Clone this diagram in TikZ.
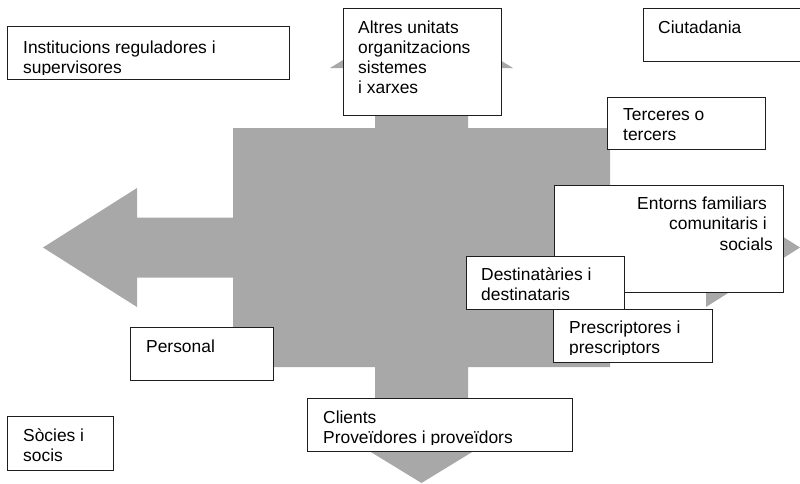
\documentclass[tikz,border=0pt]{standalone}
\usepackage{fontspec}
\setmainfont{Liberation Sans}
\definecolor{arrowgrey}{RGB}{168,168,168}
\definecolor{boxline}{RGB}{30,30,30}
\begin{document}
\begin{tikzpicture}[x=1pt,y=-1pt,
  box/.style={draw=boxline, line width=0.9pt, fill=white, inner sep=0pt, anchor=north west},
  lbl/.style={inner sep=0pt, anchor=base west, align=left, font=\fontsize{17.4}{20.2}\selectfont},
  lblr/.style={inner sep=0pt, anchor=base east, align=right, font=\fontsize{17.4}{20.5}\selectfont}]
\useasboundingbox (0,0) rectangle (800,483);
% four-way arrow
\fill[arrowgrey] (43,247.5) -- (137,188) -- (137,217.5) -- (233,217.5) -- (233,128)
  -- (375,128) -- (375,68) -- (330,68) -- (421.5,12) -- (513,68) -- (468,68) -- (468,128)
  -- (610,128) -- (610,217.5) -- (706,217.5) -- (706,188) -- (800,247.5) -- (706,307)
  -- (706,277.5) -- (610,277.5) -- (610,367) -- (468,367) -- (468,427) -- (513,427)
  -- (421.5,483) -- (330,427) -- (375,427) -- (375,367) -- (233,367) -- (233,277.5)
  -- (137,277.5) -- (137,307) -- cycle;
% boxes and labels (label anchors sit on the baseline of the last line)
\node[box, minimum width=282, minimum height=53] (inst) at (7,26) {};
\begin{scope}
  \clip (7,20) rectangle (289,74.8);
  \node[lbl] (instT) at (23,73.2) {Institucions reguladores i\\supervisores};
\end{scope}
\node[box, minimum width=158, minimum height=107] (altres) at (343,8) {};
\node[lbl] (altresT) at (358,93.6) {Altres unitats\\organitzacions\\sistemes\\i xarxes};
\node[box, minimum width=170, minimum height=53] (ciut) at (643,8) {};
\node[lbl] (ciutT) at (658,33) {Ciutadania};
\node[box, minimum width=158, minimum height=52] (terc) at (607,97) {};
\node[lbl] (tercT) at (623,140.2) {Terceres o\\tercers};
\node[box, minimum width=229, minimum height=107] (entorns) at (554,185) {};
\node[lblr] (entornsT) at (773,250) {Entorns familiars\kern6pt\\comunitaris i\kern6pt\\socials};
\node[box, minimum width=158, minimum height=53] (dest) at (466,256) {};
\node[lbl] (destT) at (481,300.2) {Destinatàries i\\destinataris};
\node[box, minimum width=159, minimum height=53] (presc) at (553,309) {};
\begin{scope}
  \clip (553,305) rectangle (712,354.8);
  \node[lbl] (prescT) at (569,353.2) {Prescriptores i\\prescriptors};
\end{scope}
\node[box, minimum width=143, minimum height=53] (pers) at (130,327) {};
\node[lbl] (persT) at (146,352) {Personal};
\node[box, minimum width=106, minimum height=54] (socies) at (7,416) {};
\node[lbl] (sociesT) at (23,461.2) {Sòcies i\\socis};
\node[box, minimum width=265, minimum height=53] (clients) at (307,398) {};
\begin{scope}
  \clip (307,395) rectangle (572,444.8);
  \node[lbl] (clientsT) at (323,443.2) {Clients\\Proveïdores i proveïdors};
\end{scope}
\end{tikzpicture}
\end{document}
